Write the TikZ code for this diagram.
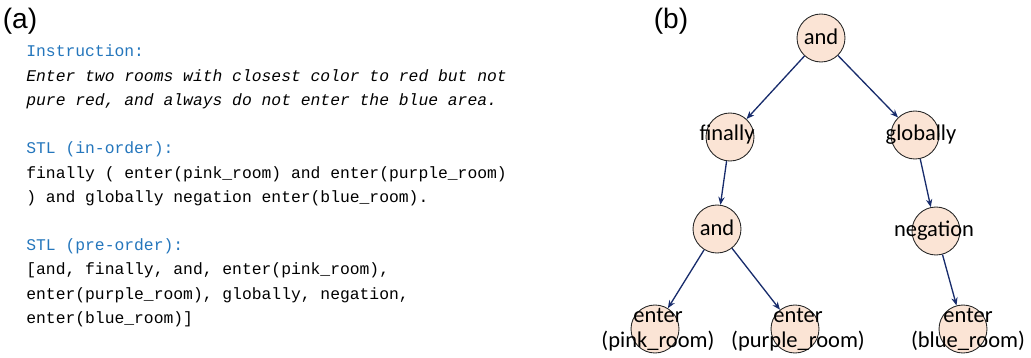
\documentclass[tikz,border=0pt]{standalone}
\usepackage{fontspec}
\usepackage{tikz}
\usetikzlibrary{arrows.meta}
\newfontfamily\codefont{Liberation Mono}
\newfontfamily\treefont{Carlito}
\newfontfamily\tagfont{Liberation Sans}
\definecolor{STLBlue}{RGB}{36,118,188}
\definecolor{STLNavy}{RGB}{24,44,108}
\definecolor{STLPeach}{RGB}{251,228,213}
\definecolor{STLEdge}{RGB}{40,40,40}

\begin{document}
\begin{tikzpicture}[
  x=0.02cm, y=-0.02cm,
  tag/.style={font=\tagfont\fontsize{16}{18}\selectfont,inner sep=0pt},
  head/.style={anchor=base west,inner sep=0pt,text=STLBlue,font=\codefont\fontsize{9.3}{11}\selectfont},
  code/.style={anchor=base west,inner sep=0pt,font=\codefont\fontsize{9.3}{11}\selectfont},
  op/.style={circle,draw=STLEdge,line width=0.5pt,fill=STLPeach,minimum size=9.6mm,inner sep=0pt},
  oplabel/.style={align=center,inner sep=0pt,font=\treefont\fontsize{12.8}{14.2}\selectfont},
  arrow/.style={-{Stealth[length=4.5pt,width=3.6pt]},draw=STLNavy,line width=0.75pt}
]
\useasboundingbox (0,0) rectangle (1031,358);

% panel (a)
\node[tag] (ta) at (20,21) {(a)};
\node[head] (h1) at (26,57) {Instruction:};
\node[code] (l1) at (26,81.2) {\itshape Enter two rooms with closest color to red but not};
\node[code] (l2) at (26,105.4) {\itshape pure red, and always do not enter the blue area.};
\node[head] (h2) at (26,153.8) {STL (in-order):};
\node[code] (l3) at (26,178) {finally ( enter(pink\_room) and enter(purple\_room)};
\node[code] (l4) at (26,202.2) {) and globally negation enter(blue\_room).};
\node[head] (h3) at (26,250.6) {STL (pre-order):};
\node[code] (l5) at (26,274.8) {[and, finally, and, enter(pink\_room),};
\node[code] (l6) at (26,299) {enter(purple\_room), globally, negation,};
\node[code] (l7) at (26,323.2) {enter(blue\_room)]};

% panel (b)
\node[tag] (tb) at (671,21) {(b)};
\node[op] (root) at (821,38) {};
\node[op] (fin) at (730,137) {};
\node[op] (glob) at (915,135) {};
\node[op] (and) at (717,229) {};
\node[op] (neg) at (936,231) {};
\node[op] (pink) at (655,329) {};
\node[op] (purple) at (795,329) {};
\node[op] (blue) at (963,329) {};

\node[oplabel] (root-t) at (821,37) {and};
\node[oplabel] (fin-t) at (727,135) {finally};
\node[oplabel] (glob-t) at (921,135) {globally};
\node[oplabel] (and-t) at (717,228) {and};
\node[oplabel] (neg-t) at (934,231) {negation};
\node[oplabel] (pink-t) at (658,330) {enter\\(pink\_room)};
\node[oplabel] (purple-t) at (798,330) {enter\\(purple\_room)};
\node[oplabel] (blue-t) at (968,329) {enter\\(blue\_room)};

\draw[arrow] (root)--(fin); \draw[arrow] (root)--(glob);
\draw[arrow] (fin)--(and); \draw[arrow] (glob)--(neg);
\draw[arrow] (and)--(pink); \draw[arrow] (and)--(purple); \draw[arrow] (neg)--(blue);
\end{tikzpicture}
\end{document}
